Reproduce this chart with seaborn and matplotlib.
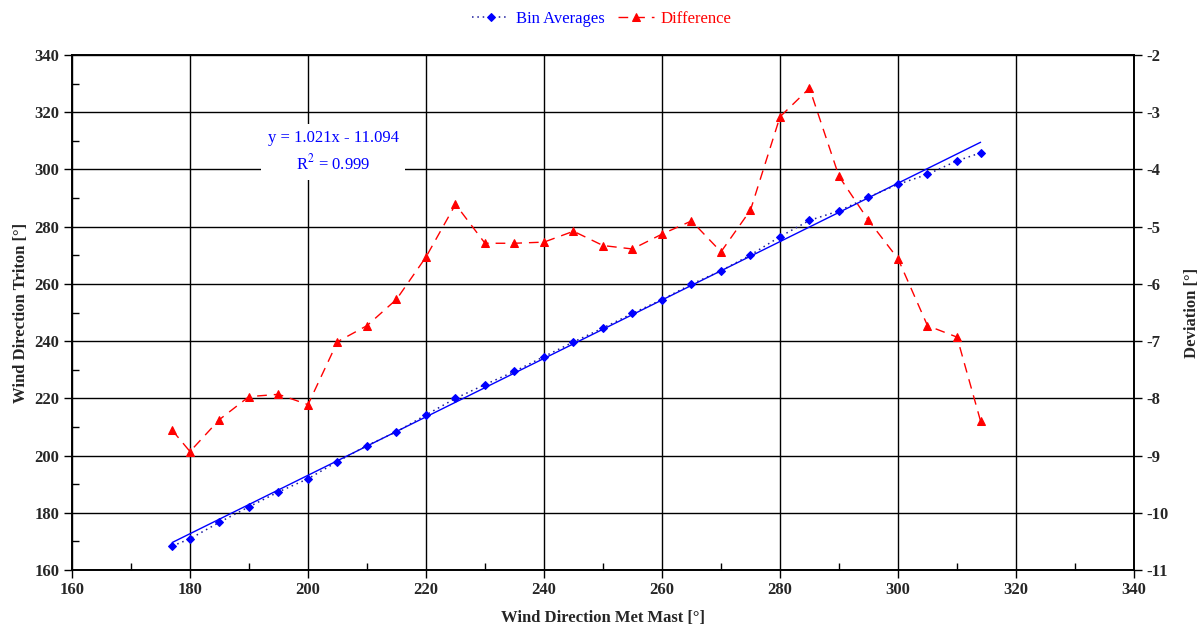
import numpy as np
import pandas as pd
import matplotlib
matplotlib.use("Agg")
import matplotlib.pyplot as plt
from matplotlib.ticker import MultipleLocator
import seaborn as sns

# Bin-averaged wind direction: met mast (x) vs Triton (left axis), deviation (right axis)
met_mast = [177, 180, 185, 190, 195, 200, 205, 210, 215, 220, 225, 230, 235, 240, 245,
            250, 255, 260, 265, 270, 275, 280, 285, 290, 295, 300, 305, 310, 314]
triton = [168.4, 170.9, 176.7, 182.1, 187.3, 191.9, 197.9, 203.5, 208.3, 214.2, 220.0,
          224.8, 229.4, 234.6, 239.7, 244.6, 249.7, 254.5, 259.9, 264.6, 270.1, 276.5,
          282.2, 285.5, 290.3, 294.8, 298.3, 303.0, 305.8]
deviation = [-8.56, -8.93, -8.37, -7.97, -7.93, -8.11, -7.01, -6.73, -6.27, -5.53, -4.61,
             -5.29, -5.29, -5.27, -5.08, -5.33, -5.39, -5.13, -4.90, -5.44, -4.71, -3.08,
             -2.58, -4.12, -4.89, -5.56, -6.73, -6.93, -8.40]

# Linear fit stated in the annotation
fit_slope = 1.021
fit_intercept = -11.094
fit_r2 = 0.999

df = pd.DataFrame({"met_mast": met_mast, "triton": triton, "deviation": deviation})

sns.set_theme(style="white")
plt.rcParams["font.family"] = ["Liberation Serif", "DejaVu Serif"]
plt.rcParams["mathtext.fontset"] = "stix"
plt.rcParams["axes.unicode_minus"] = False

fig = plt.figure(figsize=(12.04, 6.37), dpi=100)
ax = fig.add_axes([72 / 1204, 1 - 570 / 637, (1134 - 72) / 1204, (570 - 55) / 637])
ax2 = ax.twinx()

# Fit line (solid) through the range of the bins
x_fit = np.array([min(met_mast), max(met_mast)])
ax.plot(x_fit, fit_slope * x_fit + fit_intercept, color="#0000FF", lw=1.0, zorder=3)

# Bin averages
sns.lineplot(data=df, x="met_mast", y="triton", ax=ax, color="#0000FF",
             marker="D", markersize=4.0, markeredgecolor="#0000FF",
             linestyle=(0, (1, 2.5)), lw=1.1, label="Bin Averages",
             legend=False, sort=False, zorder=4)
ax.lines[-1].set_color("#1a1a9c")
ax.lines[-1].set_markerfacecolor("#0000FF")
ax.lines[-1].set_markeredgecolor("#0000FF")

# Difference on secondary axis
sns.lineplot(data=df, x="met_mast", y="deviation", ax=ax2, color="#FF0000",
             marker="^", markersize=5.8, markeredgecolor="#FF0000",
             linestyle=(0, (7, 5)), lw=1.0, label="Difference",
             legend=False, sort=False, zorder=4)

ax.set_xlim(160, 340)
ax.set_ylim(160, 340)
ax2.set_ylim(-11, -2)

ax.xaxis.set_major_locator(MultipleLocator(20))
ax.xaxis.set_minor_locator(MultipleLocator(10))
ax.yaxis.set_major_locator(MultipleLocator(20))
ax.yaxis.set_minor_locator(MultipleLocator(10))
ax2.yaxis.set_major_locator(MultipleLocator(1))

ax.grid(True, which="major", color="black", lw=1.0)
ax2.grid(False)

ax.tick_params(axis="both", which="major", direction="out", length=6, width=1,
               color="black", labelsize=12, pad=3)
ax.tick_params(axis="both", which="minor", direction="in", length=5, width=1,
               color="black")
ax.tick_params(axis="x", which="both", bottom=True)
ax.tick_params(axis="y", which="both", left=True)
ax2.tick_params(axis="y", which="major", direction="out", length=6, width=1,
                color="black", labelsize=12, right=True, pad=3)
for lbl in ax.get_xticklabels() + ax.get_yticklabels() + ax2.get_yticklabels():
    lbl.set_fontweight("bold")

for a in (ax, ax2):
    for s in a.spines.values():
        s.set_color("black")
        s.set_linewidth(1.2)

ax.set_xlabel("Wind Direction Met Mast [°]", fontsize=12, fontweight="bold", labelpad=8)
ax.set_ylabel("Wind Direction Triton [°]", fontsize=12, fontweight="bold", labelpad=4)
ax2.set_ylabel("Deviation [°]", fontsize=12, fontweight="bold", labelpad=11,
               rotation=90)

ax.text(0.246, 0.812,
        f"y = {fit_slope:.3f}x - {abs(fit_intercept):.3f}\nR$^2$ = {fit_r2:.3f}",
        transform=ax.transAxes, ha="center", va="center", fontsize=12,
        color="#0000FF", linespacing=1.45, zorder=5,
        bbox=dict(boxstyle="square,pad=0.4", facecolor="white", edgecolor="none"))

handles = ax.lines[-1:] + ax2.lines[-1:]
leg = fig.legend(handles, ["Bin Averages", "Difference"], loc="center",
                 bbox_to_anchor=(0.5, 1 - 19 / 637), ncol=2, frameon=False,
                 fontsize=12, handlelength=2.2, handletextpad=0.4, columnspacing=0.8)
for txt, col in zip(leg.get_texts(), ["#0000FF", "#FF0000"]):
    txt.set_color(col)

fig.savefig("out.png", dpi=100)
